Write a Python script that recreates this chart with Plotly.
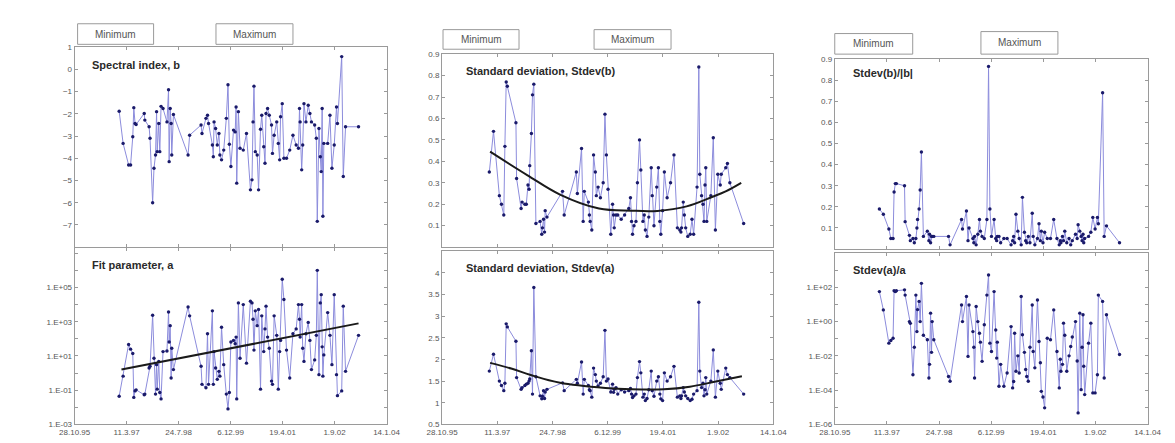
import pandas as pd
import plotly.graph_objects as go

# ---------------- data ----------------
BASE_DATE = "1995-10-28"          # x axis origin (28.10.95)
END_DATE = "2004-01-14"           # x axis end (14.1.04)
x_tick_dates = ["1995-10-28", "1997-03-11", "1998-07-24", "1999-12-06",
                "2001-04-19", "2002-09-01", "2004-01-14"]
x_tick_labels = ["28.10.95", "11.3.97", "24.7.98", "6.12.99", "19.4.01", "1.9.02", "14.1.04"]

# observation epochs, days since 28.10.1995
obs_day = [428, 466, 519, 538, 559, 569, 581, 591, 669, 675,
           716, 725, 750, 763, 778, 788, 794, 809, 819, 831,
           850, 888, 903, 909, 919, 928, 934, 950, 1091, 1106,
           1216, 1225, 1263, 1278, 1288, 1325, 1334, 1341, 1356, 1372,
           1388, 1397, 1413, 1434, 1459, 1475, 1488, 1503, 1528, 1544,
           1553, 1559, 1575, 1591, 1622, 1653, 1691, 1706, 1716, 1725,
           1738, 1756, 1769, 1788, 1800, 1819, 1831, 1841, 1856, 1872,
           1894, 1903, 1919, 1944, 1959, 1972, 1981, 1997, 2013, 2038,
           2069, 2100, 2131, 2153, 2163, 2169, 2184, 2194, 2206, 2225,
           2247, 2263, 2278, 2309, 2325, 2334, 2350, 2363, 2372, 2381,
           2388, 2397, 2434, 2456, 2475, 2497, 2519, 2528, 2569, 2584,
           2606, 2731]

spectral_b = [-1.88, -3.33, -4.3, -4.3, -3.03, -1.72, -2.43, -2.48, -1.98, -2.28,
              -2.58, -3.1, -6.0, -4.45, -3.85, -1.9, -3.7, -2.43, -3.7, -1.66,
              -1.76, -2.36, -0.91, -4.15, -1.76, -2.43, -3.85, -2.03, -3.85, -2.96,
              -2.5, -2.88, -2.2, -2.06, -2.43, -3.4, -3.93, -2.36, -2.66, -3.4,
              -2.88, -3.85, -4.07, -3.63, -2.2, -0.69, -3.37, -4.37, -2.73, -2.81,
              -1.69, -5.12, -1.9, -3.55, -3.63, -2.88, -5.42, -4.97, -2.36, -0.75,
              -3.7, -3.85, -5.42, -2.69, -2.06, -3.48, -4.22, -1.98, -1.76, -2.06,
              -2.5, -3.78, -2.96, -2.36, -3.33, -4.07, -2.13, -1.54, -4.0, -4.0,
              -3.63, -2.96, -3.4, -3.55, -1.76, -2.36, -4.52, -3.4, -1.54, -2.36,
              -1.61, -1.98, -2.36, -2.5, -3.1, -6.84, -2.66, -3.93, -4.6, -1.76,
              -6.61, -3.33, -3.33, -2.06, -4.45, -3.4, -1.69, -2.43, 0.58, -4.82,
              -2.58, -2.58]

fit_param_a = [0.044, 0.66, 47, 25, 14, 0.038, 0.091, 0.105, 0.054, 0.059,
               2.0, 2.5, 2400, 7.4, 0.059, 3.1, 0.115, 4.8, 0.074, 0.031,
               18, 19.5, 3700, 66, 590, 0.52, 28, 1.6, 7200, 2200,
               2.5, 0.22, 0.14, 200, 0.22, 4300, 0.22, 18, 2.0, 0.43,
               1.26, 0.66, 480, 3.1, 0.059, 0.0081, 0.074, 66, 81, 52,
               126, 0.031, 12600, 7.4, 10000, 3.8, 15800, 12600, 1400, 22,
               4300, 590, 5200, 0.115, 2200, 18, 380, 8100, 126, 28,
               0.34, 0.22, 2200, 160, 0.115, 18, 81, 300000, 20000, 22,
               0.52, 200, 380, 10000, 1400, 126, 10000, 28, 4.8, 200,
               910, 81, 1.6, 5.9, 160, 1000000, 0.81, 12600, 38000, 34,
               0.66, 11.5, 3400, 160, 3.1, 38000, 0.81, 0.048, 0.091, 8100,
               1.26, 160]

stdev_b = [0.35, 0.54, 0.24, 0.2, 0.15, 0.47, 0.77, 0.75, 0.58, 0.32,
           0.18, 0.21, 0.2, 0.2, 0.29, 0.27, 0.38, 0.53, 0.71, 0.76,
           0.11, 0.12, 0.06, 0.09, 0.13, 0.07, 0.17, 0.14, 0.26, 0.15,
           0.35, 0.25, 0.46, 0.12, 0.26, 0.21, 0.15, 0.12, 0.08, 0.43,
           0.35, 0.24, 0.28, 0.23, 0.3, 0.62, 0.43, 0.27, 0.06, 0.2,
           0.15, 0.09, 0.15, 0.15, 0.13, 0.15, 0.18, 0.23, 0.12, 0.06,
           0.1, 0.12, 0.3, 0.5, 0.36, 0.12, 0.15, 0.08, 0.05, 0.14,
           0.37, 0.24, 0.1, 0.28, 0.37, 0.12, 0.06, 0.17, 0.35, 0.23,
           0.3, 0.43, 0.09, 0.08, 0.07, 0.09, 0.21, 0.15, 0.09, 0.05,
           0.06, 0.13, 0.06, 0.28, 0.84, 0.34, 0.24, 0.2, 0.12, 0.29,
           0.37, 0.12, 0.24, 0.51, 0.08, 0.34, 0.29, 0.34, 0.37, 0.39,
           0.3, 0.11]

stdev_a = [1.73, 2.12, 1.5, 1.4, 1.28, 1.45, 2.82, 2.75, 2.42, 1.58,
           1.31, 1.35, 1.4, 1.43, 1.45, 1.5, 1.55, 2.2, 1.2, 3.66,
           1.6, 1.16, 1.09, 1.15, 1.28, 1.1, 1.25, 1.31, 1.46, 1.28,
           1.54, 1.45, 1.94, 1.2, 1.54, 1.4, 1.3, 1.28, 1.13, 1.8,
           1.65, 1.5, 1.39, 1.45, 1.6, 2.67, 1.5, 1.55, 1.25, 1.43,
           1.24, 1.31, 1.35, 1.2, 1.3, 1.25, 1.28, 1.33, 1.2, 1.12,
           1.16, 1.2, 1.58, 1.95, 1.69, 1.13, 1.2, 1.05, 1.1, 1.3,
           1.73, 1.28, 1.15, 1.5, 1.6, 1.2, 1.09, 1.05, 1.69, 1.5,
           1.6, 1.84, 1.13, 1.16, 1.1, 1.16, 1.35, 1.25, 1.16, 1.1,
           1.05, 1.08, 1.2, 1.28, 3.32, 1.73, 1.35, 1.45, 1.16, 1.3,
           1.58, 1.2, 1.5, 2.22, 1.13, 1.73, 1.45, 1.31, 1.8, 1.65,
           1.58, 1.2]

rel_stdev_b = [0.19, 0.165, 0.095, 0.05, 0.05, 0.27, 0.31, 0.31, 0.3, 0.13,
               0.065, 0.04, 0.05, 0.03, 0.05, 0.1, 0.14, 0.19, 0.28, 0.46,
               0.06, 0.085, 0.04, 0.07, 0.03, 0.06, 0.06, 0.06, 0.06, 0.02,
               0.14, 0.095, 0.18, 0.04, 0.1, 0.05, 0.03, 0.06, 0.02, 0.07,
               0.14, 0.085, 0.06, 0.05, 0.14, 0.865, 0.19, 0.06, 0.14, 0.05,
               0.04, 0.06, 0.06, 0.03, 0.05, 0.05, 0.02, 0.04, 0.06, 0.03,
               0.165, 0.085, 0.05, 0.02, 0.245, 0.08, 0.04, 0.03, 0.06, 0.03,
               0.17, 0.06, 0.02, 0.05, 0.12, 0.04, 0.085, 0.03, 0.08, 0.05,
               0.05, 0.14, 0.05, 0.02, 0.04, 0.03, 0.06, 0.04, 0.085, 0.03,
               0.05, 0.02, 0.04, 0.07, 0.05, 0.115, 0.085, 0.06, 0.04, 0.07,
               0.03, 0.05, 0.06, 0.08, 0.15, 0.095, 0.15, 0.12, 0.74, 0.06,
               0.11, 0.03]

rel_stdev_a = [56, 4.8, 0.055, 0.079, 0.107, 63, 56, 63, 71, 35,
               1.0, 0.79, 7.9e-4, 0.032, 35, 0.26, 5.0, 15, 1.0, 170,
               0.16, 0.087, 5.1e-4, 3.2e-3, 3.1, 0.016, 1.0, 0.087, 6.3e-4, 3.3e-4,
               9.3, 1.0, 29, 9.3e-3, 9.3, 0.26, 0.032, 5.1e-4, 7.6, 1.0,
               0.21, 0.063, 4.8e-3, 0.65, 35, 520, 0.055, 0.018, 56, 0.32,
               7.4e-3, 0.063, 1.7e-4, 3.2e-3, 1.7e-4, 1.0e-3, 0.51, 1.35e-4, 3.2e-4, 0.21,
               1.26e-3, 0.01, 1.0e-3, 29, 0.17, 0.016, 1.6e-3, 6.3e-4, 3.3e-4, 0.032,
               9.3, 0.018, 2.0e-3, 18, 0.069, 4.0e-3, 8.5e-5, 4.0e-5, 9.3e-6, 0.107,
               0.087, 4.8, 0.018, 1.35e-4, 6.3e-3, 1.26e-3, 3.2e-3, 0.81, 0.16, 1.26e-3,
               0.01, 0.035, 0.126, 1.0, 5.0e-3, 4.7e-6, 3.1, 1.07e-4, 0.032, 2.5,
               2.5e-3, 5.5e-5, 0.055, 0.81, 6.9e-5, 6.9e-5, 7.9e-4, 35, 15, 5.1e-4,
               2.5, 0.012]

# trend / fit curves
trend_a_day = [450, 2731]
trend_a_val = [1.6, 800]
fit_sb_day = [435, 774, 1068, 1421, 1715, 1950, 2215, 2450, 2568, 2709]
fit_sb_val = [0.445, 0.335, 0.245, 0.18, 0.17, 0.169, 0.19, 0.235, 0.26, 0.30]
fit_sa_day = [435, 626, 803, 1068, 1479, 1715, 2009, 2244, 2479, 2715]
fit_sa_val = [1.92, 1.79, 1.64, 1.46, 1.34, 1.31, 1.31, 1.37, 1.49, 1.61]

panel_titles = ["Spectral index, b", "Standard deviation, Stdev(b)", "Stdev(b)/|b|",
                "Fit parameter, a", "Standard deviation, Stdev(a)", "Stdev(a)/a"]

# ---------------- helpers ----------------
base = pd.Timestamp(BASE_DATE)


def to_dates(days):
    return [base + pd.Timedelta(days=int(d)) for d in days]


obs_dates = to_dates(obs_day)

W, H = 1175, 443
# panel boxes in pixels: x0, x1, ytop, ybottom
boxes = {
    1: (52, 372, 36, 240),
    2: (429, 769, 43, 240),
    3: (832, 1153, 48, 242),
    4: (52, 372, 241, 421),
    5: (429, 769, 244, 421),
    6: (832, 1153, 246, 421),
}

LINE_C = "#8c8cdc"
MARK_C = "#1a1a6a"
FRAME_C = "#9a9a9a"
TXT_C = "#555555"
FONT = "Liberation Sans, Arial, sans-serif"

fig = go.Figure()

series = {1: spectral_b, 2: stdev_b, 3: rel_stdev_b,
          4: fit_param_a, 5: stdev_a, 6: rel_stdev_a}

for k, vals in series.items():
    sfx = "" if k == 1 else str(k)
    fig.add_trace(go.Scatter(
        x=obs_dates, y=vals, mode="lines+markers",
        line=dict(color=LINE_C, width=1),
        marker=dict(color=MARK_C, size=3.4, symbol="circle"),
        xaxis="x" + sfx, yaxis="y" + sfx, showlegend=False))

fig.add_trace(go.Scatter(x=to_dates(trend_a_day), y=trend_a_val, mode="lines",
                         line=dict(color="#1a1a1a", width=2),
                         xaxis="x4", yaxis="y4", showlegend=False))
fig.add_trace(go.Scatter(x=to_dates(fit_sb_day), y=fit_sb_val, mode="lines",
                         line=dict(color="#1a1a1a", width=2, shape="spline", smoothing=1.0),
                         xaxis="x2", yaxis="y2", showlegend=False))
fig.add_trace(go.Scatter(x=to_dates(fit_sa_day), y=fit_sa_val, mode="lines",
                         line=dict(color="#1a1a1a", width=2, shape="spline", smoothing=1.0),
                         xaxis="x5", yaxis="y5", showlegend=False))

layout = dict(width=W, height=H, margin=dict(l=0, r=0, t=0, b=0),
              paper_bgcolor="white", plot_bgcolor="white",
              font=dict(family=FONT, size=8, color=TXT_C), showlegend=False)

common = dict(showline=True, linecolor=FRAME_C, linewidth=1, mirror="ticks",
              ticks="inside", ticklen=3, tickcolor=FRAME_C, showgrid=False,
              zeroline=False, tickfont=dict(family=FONT, size=8, color=TXT_C))


def log_ticks(lo, hi, labelled):
    vals, text = [], []
    for e in range(lo, hi + 1):
        vals.append(10.0 ** e)
        if e in labelled:
            text.append("1.E%s%02d" % ("+" if e >= 0 else "-", abs(e)))
        else:
            text.append("")
    return vals, text


la_vals, la_text = log_ticks(-3, 7, [-3, -1, 1, 3, 5])
ra_vals, ra_text = log_ticks(-6, 4, [-6, -4, -2, 0, 2])
sd_vals = [0.1, 0.2, 0.3, 0.4, 0.5, 0.6, 0.7, 0.8, 0.9]

yspec = {
    1: dict(range=[-8, 1], tickvals=list(range(-7, 2))),
    2: dict(range=[0, 0.9], tickvals=sd_vals, ticktext=[str(v) for v in sd_vals]),
    3: dict(range=[0, 0.9], tickvals=sd_vals, ticktext=[str(v) for v in sd_vals]),
    4: dict(type="log", range=[-3, 7.3], tickvals=la_vals, ticktext=la_text),
    5: dict(range=[0.5, 4.5], tickvals=[0.5, 1, 1.5, 2, 2.5, 3, 3.5, 4],
            ticktext=["0.5", "1", "1.5", "2", "2.5", "3", "3.5", "4"]),
    6: dict(type="log", range=[-6, 4], tickvals=ra_vals, ticktext=ra_text),
}

for k, (x0, x1, yt, yb) in boxes.items():
    sfx = "" if k == 1 else str(k)
    xd = [x0 / W, x1 / W]
    yd = [1 - yb / H, 1 - yt / H]
    layout["xaxis" + sfx] = dict(
        common, domain=xd, anchor="y" + sfx, type="date",
        range=[BASE_DATE, END_DATE], tickvals=x_tick_dates, ticktext=x_tick_labels,
        showticklabels=(k >= 4))
    layout["yaxis" + sfx] = dict(common, domain=yd, anchor="x" + sfx, **yspec[k])

# panel titles
title_pos = {1: (68, 54), 2: (452, 60), 3: (849, 62),
             4: (68, 258), 5: (452, 261), 6: (849, 263)}
annotations = []
for k, (px, py) in title_pos.items():
    annotations.append(dict(x=px / W, y=1 - py / H, xref="paper", yref="paper",
                            text="<b>%s</b>" % panel_titles[k - 1], showarrow=False,
                            xanchor="left", yanchor="middle",
                            font=dict(family=FONT, size=11, color="#2a2a2a")))

# Minimum / Maximum labels (boxes above each top panel)
label_boxes = [
    ("Minimum", 55, 133, 12, 33), ("Maximum", 197, 276, 12, 33),
    ("Minimum", 430, 508, 18, 38), ("Maximum", 585, 664, 18, 38),
    ("Minimum", 832, 912, 22, 43), ("Maximum", 982, 1061, 20, 43),
]
shapes = []
for txt, bx0, bx1, by0, by1 in label_boxes:
    shapes.append(dict(type="rect", xref="paper", yref="paper",
                       x0=bx0 / W, x1=bx1 / W, y0=1 - by1 / H, y1=1 - by0 / H,
                       line=dict(color=FRAME_C, width=1), fillcolor="white"))
    annotations.append(dict(x=(bx0 + bx1) / 2 / W, y=1 - (by0 + by1) / 2 / H,
                            xref="paper", yref="paper", text=txt, showarrow=False,
                            xanchor="center", yanchor="middle",
                            font=dict(family=FONT, size=10, color=TXT_C)))

layout["annotations"] = annotations
layout["shapes"] = shapes
fig.update_layout(**layout)

fig.write_html("out.html")
